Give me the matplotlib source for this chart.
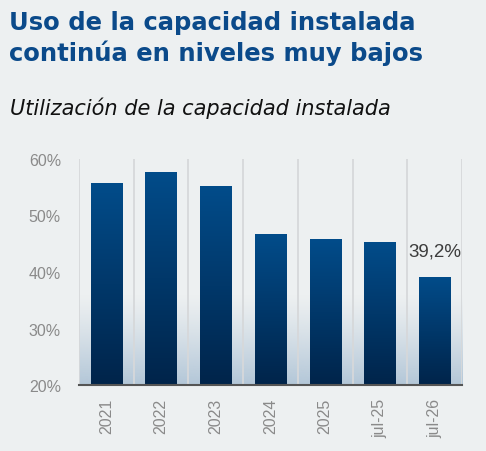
import numpy as np
import matplotlib
matplotlib.use("Agg")
import matplotlib.pyplot as plt
from matplotlib.colors import LinearSegmentedColormap, to_rgba

categories = ["2021", "2022", "2023", "2024", "2025", "jul-25", "jul-26"]
values = [55.7, 57.7, 55.2, 46.7, 45.8, 45.3, 39.2]
yticks = [20, 30, 40, 50, 60]

BG = "#edf0f1"
TITLE_COL = "#0b4a8a"

fig = plt.figure(figsize=(4.86, 4.52), dpi=100, facecolor=BG)
ax = fig.add_axes([79 / 486, 66 / 452, 383 / 486, 226 / 452])
ax.set_facecolor(BG)

x = np.arange(len(categories))
bars = ax.bar(x, values, width=0.57, bottom=0, color="none", zorder=3)

# fondo con degradado azul claro abajo
bg_grad = np.zeros((200, 1, 4))
c = np.array(to_rgba("#b3c7d8"))
t = np.linspace(0, 1, 200)  # 0 = abajo
alpha = np.clip(1 - t / 0.4, 0, 1) ** 1.2
bg_grad[:, 0, :3] = c[:3]
bg_grad[:, 0, 3] = alpha
ax.imshow(bg_grad, extent=[-0.5, len(categories) - 0.5, 20, 60], origin="lower",
          aspect="auto", zorder=0.5, interpolation="bilinear")

# degradado de las barras
bar_cmap = LinearSegmentedColormap.from_list("bar", ["#00244a", "#024c8a"])
grad = np.linspace(0, 1, 256).reshape(-1, 1)
for b in bars:
    bx, bw, bh = b.get_x(), b.get_width(), b.get_height()
    im = ax.imshow(grad, extent=[bx, bx + bw, 20, bh], origin="lower", cmap=bar_cmap,
                   aspect="auto", zorder=3, interpolation="bilinear")
    im.set_clip_path(b)
ax.set_xlim(-0.5, len(categories) - 0.5)
ax.set_ylim(20, 60)

# líneas verticales entre categorías
ax.set_xticks(np.arange(len(categories) + 1) - 0.5, minor=True)
ax.grid(which="minor", axis="x", color="#d6d8da", lw=1.3, zorder=1)
ax.tick_params(which="minor", length=0)

ax.set_xticks(x)
ax.set_xticklabels(categories, rotation=90, fontsize=11.5, color="#8a8a8a", family="Liberation Sans")
ax.set_yticks(yticks)
ax.set_yticklabels([f"{v}%" for v in yticks], fontsize=11.5, color="#8a8a8a", family="Liberation Sans")
ax.tick_params(axis="both", which="major", length=0)
ax.tick_params(axis="y", pad=13)
ax.tick_params(axis="x", pad=9)

for s in ["top", "right", "left"]:
    ax.spines[s].set_visible(False)
ax.spines["bottom"].set_color("#555555")
ax.spines["bottom"].set_linewidth(1.5)
ax.spines["bottom"].set_zorder(5)

ax.annotate(f"{values[-1]:.1f}%".replace(".", ","), xy=(x[-1], values[-1]),
            xytext=(0, 12), textcoords="offset points", ha="center", va="bottom",
            fontsize=13.5, color="#3c3c3c", family="Liberation Sans", zorder=6)

fig.text(9 / 486, 1 - 11 / 452, "Uso de la capacidad instalada\ncontinúa en niveles muy bajos",
         ha="left", va="top", fontsize=17.5, fontweight="bold", color=TITLE_COL,
         family="DejaVu Sans", linespacing=1.28)
fig.text(10 / 486, 1 - 115 / 452, "Utilización de la capacidad instalada",
         ha="left", va="baseline", fontsize=15, style="italic", color="#111111", family="DejaVu Sans")

fig.savefig("out.png", dpi=100, facecolor=BG)
